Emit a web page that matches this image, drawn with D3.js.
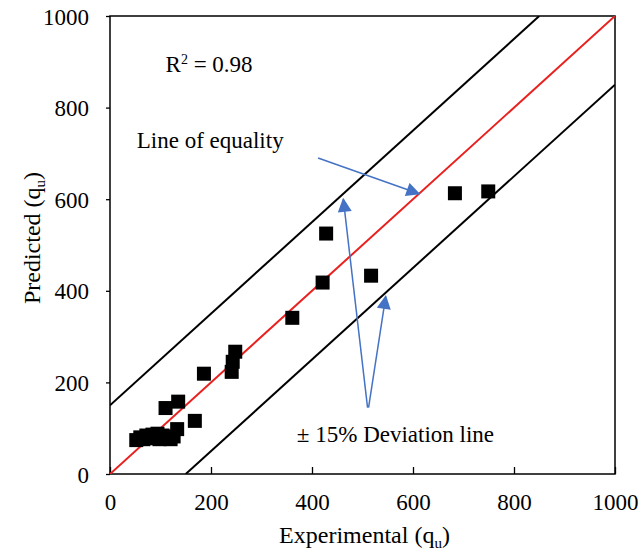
<!DOCTYPE html>
<html>
<head>
<meta charset="utf-8">
<script src="https://cdn.jsdelivr.net/npm/d3@7"></script>
<style>
  body { margin: 0; background: #fff; }
  text { font-family: "Liberation Serif", "Times New Roman", serif; fill: #000; }
</style>
</head>
<body>
<svg id="chart" width="643" height="553"></svg>
<script>
// data
const experimental = [52, 60, 66, 72, 78, 84, 88, 94, 98, 104, 108, 114, 120, 126, 133, 110, 135, 168, 186, 241, 243, 248, 361, 421, 428, 517, 683, 749];
const predicted    = [74, 80, 76, 84, 78, 86, 80, 88, 76, 84, 78, 80, 76, 82, 98, 144, 158, 116, 219, 223, 245, 267, 341, 418, 525, 433, 613, 617];
const tickValues = [0, 200, 400, 600, 800, 1000];
const deviation = 150;

const serif = '"Liberation Serif", "Times New Roman", serif';
const margin = { top: 16, right: 28, bottom: 79, left: 110 };
const width = 643 - margin.left - margin.right;
const height = 553 - margin.top - margin.bottom;

const svg = d3.select("#chart");
const g = svg.append("g").attr("transform", `translate(${margin.left},${margin.top})`);

const x = d3.scaleLinear().domain([0, 1000]).range([0, width]);
const y = d3.scaleLinear().domain([0, 1000]).range([height, 0]);

// frame
g.append("rect")
  .attr("width", width).attr("height", height)
  .attr("fill", "none").attr("stroke", "#000").attr("stroke-width", 1.5);

// x axis, ticks pointing up into the plot
const xAxis = g.append("g")
  .attr("transform", `translate(0,${height})`)
  .attr("font-family", serif)
  .call(d3.axisBottom(x).tickValues(tickValues).tickFormat(d3.format("d"))
    .tickSizeInner(-7).tickSizeOuter(0).tickPadding(20));
xAxis.select(".domain").remove();
xAxis.selectAll("text").style("font-size", "23px");
xAxis.selectAll("line").attr("stroke-width", 1.3);

const yAxis = g.append("g")
  .attr("font-family", serif)
  .call(d3.axisLeft(y).tickValues(tickValues).tickFormat(d3.format("d"))
    .tickSizeInner(4).tickSizeOuter(0).tickPadding(17));
yAxis.select(".domain").remove();
yAxis.selectAll("text").style("font-size", "23px").attr("dy", "0.35em");
yAxis.selectAll("line").attr("stroke-width", 1.3);

// clip lines to plot area
svg.append("defs").append("clipPath").attr("id", "clip")
  .append("rect").attr("width", width).attr("height", height);

const line = d3.line().x(d => x(d[0])).y(d => y(d[1]));
const lines = g.append("g").attr("clip-path", "url(#clip)");

lines.append("path")
  .attr("d", line([[0, deviation], [1000 - deviation, 1000]]))
  .attr("stroke", "#000").attr("stroke-width", 2).attr("fill", "none");
lines.append("path")
  .attr("d", line([[deviation, 0], [1000, 1000 - deviation]]))
  .attr("stroke", "#000").attr("stroke-width", 2).attr("fill", "none");
lines.append("path")
  .attr("d", line([[0, 0], [1000, 1000]]))
  .attr("stroke", "#e8201e").attr("stroke-width", 2).attr("fill", "none");

// points
const sq = 14;
g.selectAll(".pt")
  .data(experimental.map((e, i) => [e, predicted[i]]))
  .enter().append("rect")
  .attr("class", "pt")
  .attr("x", d => x(d[0]) - sq / 2)
  .attr("y", d => y(d[1]) - sq / 2)
  .attr("width", sq).attr("height", sq)
  .attr("fill", "#000");

// arrows
const blue = "#4472c4";
svg.append("defs").append("marker")
  .attr("id", "arrow").attr("viewBox", "0 0 10 10")
  .attr("refX", 9).attr("refY", 5)
  .attr("markerWidth", 16).attr("markerHeight", 14)
  .attr("markerUnits", "userSpaceOnUse")
  .attr("orient", "auto")
  .append("path").attr("d", "M0,0 L10,5 L0,10 z").attr("fill", blue);

// arrow endpoints in data units
const arrows = [
  [[412, 690], [612, 612]],
  [[510, 145], [462, 600]],
  [[512, 145], [546, 388]]
];
arrows.forEach(a => {
  g.append("line")
    .attr("x1", x(a[0][0])).attr("y1", y(a[0][1]))
    .attr("x2", x(a[1][0])).attr("y2", y(a[1][1]))
    .attr("stroke", blue).attr("stroke-width", 1.5)
    .attr("marker-end", "url(#arrow)");
});

// labels
const r2 = g.append("text")
  .attr("x", x(110)).attr("y", y(878))
  .style("font-size", "23px");
r2.append("tspan").text("R");
r2.append("tspan").attr("dy", -8).style("font-size", "14px").text("2");
r2.append("tspan").attr("dy", 8).text(" = 0.98");

g.append("text")
  .attr("x", x(53)).attr("y", y(712))
  .style("font-size", "23px")
  .text("Line of equality");

g.append("text")
  .attr("x", x(370)).attr("y", y(70))
  .style("font-size", "23px")
  .text("\u00b1 15% Deviation line");

const xt = svg.append("text")
  .attr("x", margin.left + width / 2 + 2).attr("y", 543)
  .attr("text-anchor", "middle")
  .style("font-size", "24px");
xt.append("tspan").text("Experimental (q");
xt.append("tspan").attr("dy", 5).style("font-size", "15px").text("u");
xt.append("tspan").attr("dy", -5).text(")");

const yt = svg.append("text")
  .attr("transform", "translate(40,238) rotate(-90)")
  .attr("text-anchor", "middle")
  .style("font-size", "24px");
yt.append("tspan").text("Predicted (q");
yt.append("tspan").attr("dy", 5).style("font-size", "15px").text("u");
yt.append("tspan").attr("dy", -5).text(")");
</script>
</body>
</html>
